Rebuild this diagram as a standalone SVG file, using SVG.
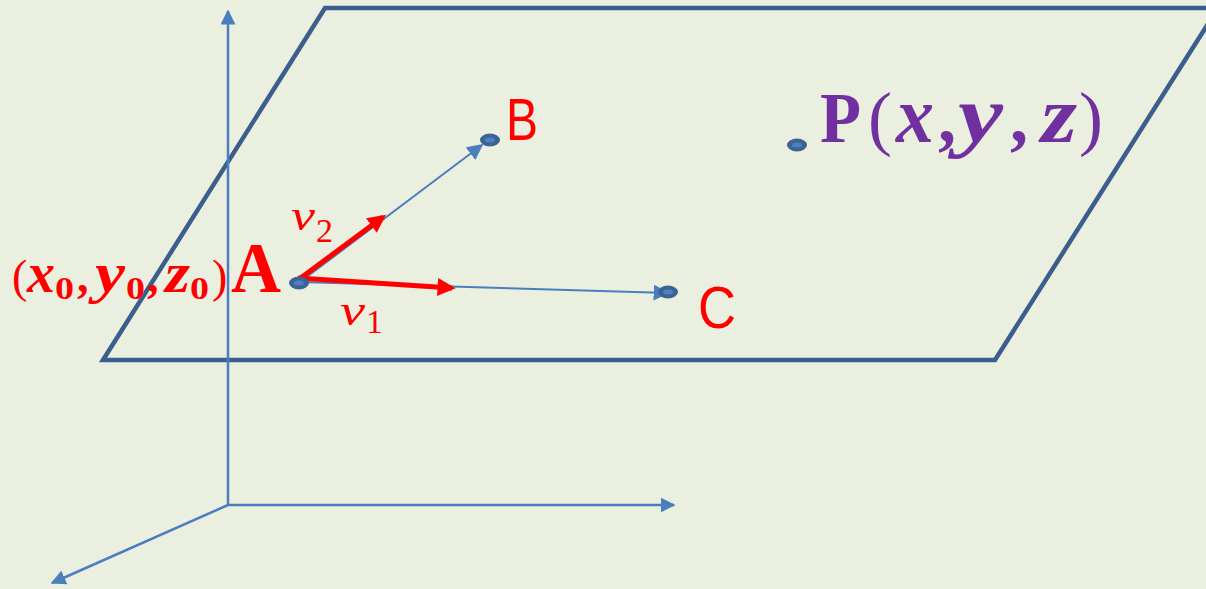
<svg xmlns="http://www.w3.org/2000/svg" width="1206" height="589" viewBox="0 0 1206 589">
<defs>
<style>
.axis{stroke:#4A7EBF;stroke-width:2.5;fill:none}
.thin{stroke:#4A7EBF;stroke-width:2;fill:none}
.red{stroke:#FF0000;stroke-width:5;fill:none}
.plane{stroke:#3B5F8C;stroke-width:4.5;fill:none;stroke-linejoin:miter}
.lbl{font-family:"Liberation Sans",Arial,sans-serif;fill:#FF0000}
.math{font-family:"Liberation Serif","DejaVu Serif",serif}
.it{font-style:italic}
.pr{font-weight:normal}
.dot{fill:#3B6494}
.dotc{fill:#4C80C0}
</style>
<marker id="ab" viewBox="0 0 10 10" refX="9" refY="5" markerWidth="6" markerHeight="6" markerUnits="strokeWidth" orient="auto"><path d="M0,0L10,5L0,10z" fill="#4A7EBF"/></marker>
<marker id="abs" viewBox="0 0 10 10" refX="9" refY="5" markerWidth="8" markerHeight="8" markerUnits="strokeWidth" orient="auto"><path d="M0,0L10,5L0,10z" fill="#4A7EBF"/></marker>
<marker id="ar" viewBox="0 0 10 10" refX="8" refY="5" markerWidth="4" markerHeight="3.6" markerUnits="strokeWidth" orient="auto"><path d="M0,0L10,5L0,10z" fill="#FF0000"/></marker>
</defs>
<rect width="1206" height="589" fill="#EBEFDF"/>
<g id="plane"><path class="plane" d="M103,360L325,8L1218,8L995,360Z"/></g>
<g id="connectors">
<line class="axis" x1="228" y1="505" x2="228" y2="11" marker-end="url(#ab)"/>
<line class="axis" x1="228" y1="505" x2="674" y2="505" marker-end="url(#ab)"/>
<line class="axis" x1="228" y1="505" x2="52" y2="583" marker-end="url(#ab)"/>
<line class="thin" x1="300" y1="282" x2="482" y2="145" marker-end="url(#abs)"/>
<line class="thin" x1="300" y1="282" x2="668" y2="293" marker-end="url(#abs)"/>
<line class="red" x1="298" y1="280" x2="383" y2="217" marker-end="url(#ar)"/>
<line class="red" x1="298" y1="278" x2="452" y2="288" marker-end="url(#ar)"/>
</g>
<g id="A"><ellipse class="dot" cx="299" cy="283" rx="10" ry="6.5"/><ellipse class="dotc" cx="299" cy="283" rx="5" ry="2.5"/>
<text class="math" x="231" y="292" font-size="72" font-weight="bold" fill="#FF0000" textLength="50" lengthAdjust="spacingAndGlyphs">A</text>
<g class="math" font-weight="bold" fill="#FF0000" font-size="46">
<text class="pr" x="12" y="292">(</text>
<text class="it" x="27" y="292" font-size="58" textLength="28" lengthAdjust="spacingAndGlyphs">x</text>
<text x="55" y="299" font-size="31" textLength="19" lengthAdjust="spacingAndGlyphs">0</text>
<text x="77" y="292">,</text>
<text class="it" x="95" y="292" font-size="58" textLength="30" lengthAdjust="spacingAndGlyphs">y</text>
<text x="126" y="299" font-size="31" textLength="19" lengthAdjust="spacingAndGlyphs">0</text>
<text x="147" y="292">,</text>
<text class="it" x="165" y="292" font-size="58" textLength="25" lengthAdjust="spacingAndGlyphs">z</text>
<text x="190" y="299" font-size="31" textLength="19" lengthAdjust="spacingAndGlyphs">0</text>
<text class="pr" x="212" y="292">)</text>
</g>
</g>
<g id="B"><ellipse class="dot" cx="490" cy="140" rx="10" ry="6.5"/><ellipse class="dotc" cx="490" cy="140" rx="5" ry="2.5"/>
<text class="lbl" x="506" y="140" font-size="60" textLength="32" lengthAdjust="spacingAndGlyphs">B</text></g>
<g id="C"><ellipse class="dot" cx="668" cy="292" rx="10" ry="6.5"/><ellipse class="dotc" cx="668" cy="292" rx="5" ry="2.5"/>
<text class="lbl" x="698" y="328" font-size="60" textLength="38" lengthAdjust="spacingAndGlyphs">C</text></g>
<g id="P"><ellipse class="dot" cx="797" cy="145" rx="10" ry="6.5"/><ellipse class="dotc" cx="797" cy="145" rx="5" ry="2.5"/>
<g class="math" font-weight="bold" fill="#7030A0" font-size="72">
<text x="820" y="142" textLength="41" lengthAdjust="spacingAndGlyphs">P</text>
<text class="pr" x="868" y="142">(</text>
<text class="it" x="896" y="142" font-size="80" textLength="38" lengthAdjust="spacingAndGlyphs">x</text>
<text x="938" y="142">,</text>
<text class="it" x="958" y="142" font-size="80" textLength="45" lengthAdjust="spacingAndGlyphs">y</text>
<text x="1010" y="142">,</text>
<text class="it" x="1041" y="142" font-size="80" textLength="36" lengthAdjust="spacingAndGlyphs">z</text>
<text class="pr" x="1079" y="142">)</text>
</g></g>
<g id="v2"><text class="math it" x="291" y="230" font-size="44" fill="#FF0000" textLength="24" lengthAdjust="spacingAndGlyphs">v</text><text class="math" x="316" y="242" font-size="34" fill="#FF0000">2</text></g>
<g id="v1"><text class="math it" x="340" y="325" font-size="44" fill="#FF0000" textLength="25" lengthAdjust="spacingAndGlyphs">v</text><text class="math" x="366" y="333" font-size="34" fill="#FF0000">1</text></g>
</svg>
